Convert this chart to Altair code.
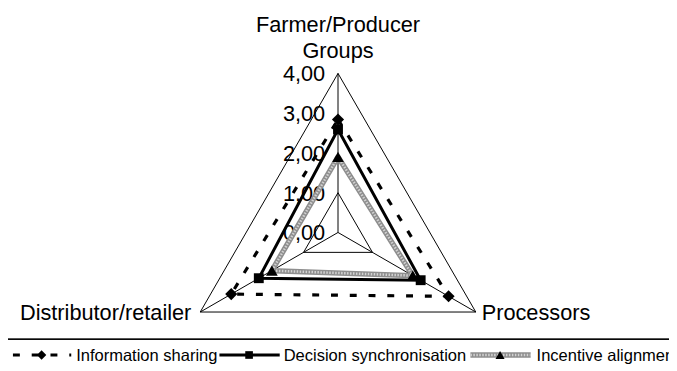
import altair as alt
import pandas as pd

# ---------------- data ----------------
categories = ["Farmer/Producer Groups", "Processors", "Distributor/retailer"]
series_names = ["Information sharing", "Decision synchronisation", "Incentive alignment"]
information_sharing = [2.84, 3.21, 3.10]
decision_synchronisation = [2.59, 2.40, 2.30]
incentive_alignment = [1.90, 2.17, 1.92]
tick_values = [0, 1, 2, 3, 4]
tick_labels = ["0,00", "1,00", "2,00", "3,00", "4,00"]
grid_levels = [1, 4]
axis_max = 4

# ---------------- layout ----------------
angles = [0, 120, 240]
W, H = 669, 363
CX, CY = 334, 225
UNIT = 40.25
FONT = "Liberation Sans"

xs = alt.Scale(domain=[-CX / UNIT, (W - CX) / UNIT], nice=False, zero=False)
ys = alt.Scale(domain=[-(H - CY) / UNIT, CY / UNIT], nice=False, zero=False)
X = alt.X("px:Q", scale=xs, axis=None)
Y = alt.Y("py:Q", scale=ys, axis=None)


def polar(ch):
    return ch.transform_calculate(
        px="datum.value * sin(datum.angle * PI / 180)",
        py="datum.value * cos(datum.angle * PI / 180)",
    )


series_values = [information_sharing, decision_synchronisation, incentive_alignment]
line_rows, point_rows = [], []
for name, vals in zip(series_names, series_values):
    for k, i in enumerate([0, 1, 2, 0]):
        line_rows.append(dict(series=name, angle=angles[i], value=vals[i], ord=k))
    for i in range(3):
        point_rows.append(dict(series=name, category=categories[i], angle=angles[i], value=vals[i]))
lines_df = pd.DataFrame(line_rows)
points_df = pd.DataFrame(point_rows)

grid_rows = []
for lv in grid_levels:
    for k, i in enumerate([0, 1, 2, 0]):
        grid_rows.append(dict(level=lv, angle=angles[i], value=lv, ord=k))
grid_df = pd.DataFrame(grid_rows)

spoke_rows = []
for i in range(3):
    spoke_rows.append(dict(spoke=i, angle=angles[i], value=0, ord=0))
    spoke_rows.append(dict(spoke=i, angle=angles[i], value=axis_max, ord=1))
spoke_df = pd.DataFrame(spoke_rows)

ticks_df = pd.DataFrame(dict(value=tick_values, label=tick_labels, angle=0))
cat_df = pd.DataFrame(dict(category=categories, angle=angles, value=axis_max))

grid = polar(alt.Chart(grid_df)).mark_line(color="black", strokeWidth=1).encode(
    x=X, y=Y, detail="level:N", order="ord:Q")
spokes = polar(alt.Chart(spoke_df)).mark_line(color="black", strokeWidth=1).encode(
    x=X, y=Y, detail="spoke:N", order="ord:Q")

ticks = polar(alt.Chart(ticks_df)).mark_text(
    align="right", baseline="middle", dx=-13, dy=1, fontSize=22, font=FONT, color="black"
).encode(x=alt.X("zero:Q", scale=xs, axis=None), y=Y, text="label:N").transform_calculate(zero="0")

styles = {
    series_names[0]: [dict(color="black", strokeWidth=3.2, strokeDash=[7, 12])],
    series_names[1]: [dict(color="black", strokeWidth=3)],
    series_names[2]: [dict(color="#8e8e8e", strokeWidth=5.5),
                      dict(color="#d2d2d2", strokeWidth=2.5, strokeDash=[1.5, 1.5])],
}
shapes = {series_names[0]: ("diamond", 150), series_names[1]: ("square", 100), series_names[2]: ("triangle-up", 140)}

series_layers = []
for name in series_names:
    for st in styles[name]:
        series_layers.append(
            polar(alt.Chart(lines_df)).transform_filter(alt.datum.series == name)
            .mark_line(**st).encode(x=X, y=Y, order="ord:Q")
        )
marker_layers = []
for name in series_names:
    shp, sz = shapes[name]
    marker_layers.append(
        polar(alt.Chart(points_df)).transform_filter(alt.datum.series == name)
        .mark_point(shape=shp, size=sz, filled=True, color="black", opacity=1)
        .encode(x=X, y=Y)
    )

cat_top = polar(alt.Chart(cat_df)).transform_filter(alt.datum.angle == 0).mark_text(
    align="center", baseline="top", dy=-59, lineBreak=" ", lineHeight=26,
    fontSize=22, font=FONT, color="black").encode(x=X, y=Y, text="category:N")
cat_right = polar(alt.Chart(cat_df)).transform_filter(alt.datum.angle == 120).mark_text(
    align="left", baseline="middle", dx=6, dy=1,
    fontSize=22, font=FONT, color="black").encode(x=X, y=Y, text="category:N")
cat_left = polar(alt.Chart(cat_df)).transform_filter(alt.datum.angle == 240).mark_text(
    align="right", baseline="middle", dx=-9, dy=1,
    fontSize=22, font=FONT, color="black").encode(x=X, y=Y, text="category:N")

# ---------------- legend ----------------
legend_df = pd.DataFrame(dict(series=series_names))
LY = 349
leg_pos = {
    series_names[0]: (5, 64, 34, 69),
    series_names[1]: (214, 275, 244, 279),
    series_names[2]: (468, 529, 498, 535),
}
legend_layers = [
    alt.Chart(legend_df).mark_rule(color="black", strokeWidth=1).encode(
        x=alt.value(0), x2=alt.value(W), y=alt.value(333))
]
for name in series_names:
    x0, x1, xm, xt = leg_pos[name]
    base = alt.Chart(legend_df).transform_filter(alt.datum.series == name)
    for st in styles[name]:
        legend_layers.append(base.mark_rule(**st).encode(
            x=alt.value(x0), x2=alt.value(x1), y=alt.value(LY)))
    shp, sz = shapes[name]
    legend_layers.append(base.mark_point(shape=shp, size=sz * 0.6, filled=True, color="black", opacity=1).encode(
        x=alt.value(xm), y=alt.value(LY)))
    legend_layers.append(base.mark_text(align="left", baseline="middle", fontSize=16.7, font=FONT, color="black").encode(
        x=alt.value(xt), y=alt.value(LY + 1), text="series:N"))

chart = alt.layer(
    grid, spokes, ticks, *series_layers, *marker_layers, cat_top, cat_right, cat_left, *legend_layers
).properties(width=W, height=H, padding=0, autosize="none").configure_view(stroke=None)

chart.save("out.html", embed_options={"renderer": "svg", "actions": False})
